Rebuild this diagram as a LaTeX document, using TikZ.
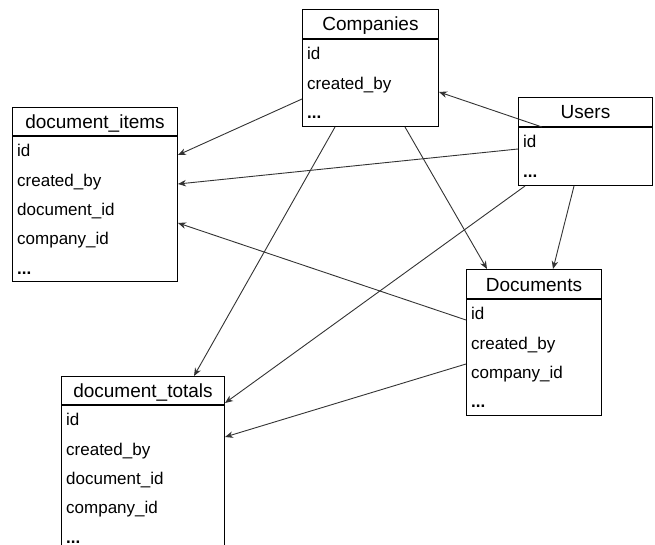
\documentclass[tikz,border=0pt]{standalone}
\usepackage{fontspec}
\setmainfont{Liberation Sans}
\usetikzlibrary{calc,arrows.meta}
\tikzset{
  hdr/.style={draw=black, line width=1pt, anchor=north west, inner sep=0pt, minimum height=29pt,
    text height=14pt, text depth=0pt, font=\fontsize{19}{22}\selectfont},
  body/.style={draw=black, line width=1pt, anchor=north west, inner sep=0pt},
  row/.style={anchor=north west, inner xsep=5pt, inner ysep=0pt, minimum height=29pt,
    text height=12pt, text depth=0pt, align=left, font=\fontsize{17}{20}\selectfont},
  link/.style={draw=black!80, line width=0.9pt, -{Stealth[length=8pt,width=6.5pt,inset=2.5pt]}}
}
\begin{document}
\begin{tikzpicture}[x=1pt,y=-1pt]
\useasboundingbox (0,0) rectangle (655,545);

% Companies
\node[hdr, minimum width=136pt] (comph) at (302,9) {Companies};
\node[body, minimum width=136pt, minimum height=87pt] (compb) at (comph.south west) {};
\node[row, text width=126pt] (comp1) at (compb.north west) {id};
\node[row, text width=126pt] (comp2) at (comp1.south west) {created\_by};
\node[row, text width=126pt] (comp3) at (comp2.south west) {\textbf{...}};

% Users
\node[hdr, minimum width=134pt] (uh) at (518,97) {Users};
\node[body, minimum width=134pt, minimum height=58pt] (ub) at (uh.south west) {};
\node[row, text width=124pt] (u1) at (ub.north west) {id};
\node[row, text width=124pt] (u2) at (u1.south west) {\textbf{...}};

% document_items
\node[hdr, minimum width=165pt, minimum height=28pt] (dih) at (12,107) {document\_items};
\node[body, minimum width=165pt, minimum height=145pt] (dib) at (dih.south west) {};
\node[row, text width=155pt] (di1) at (dib.north west) {id};
\node[row, text width=155pt] (di2) at (di1.south west) {created\_by};
\node[row, text width=155pt] (di3) at (di2.south west) {document\_id};
\node[row, text width=155pt] (di4) at (di3.south west) {company\_id};
\node[row, text width=155pt] (di5) at (di4.south west) {\textbf{...}};

% Documents
\node[hdr, minimum width=135pt] (doch) at (466,269) {Documents};
\node[body, minimum width=135pt, minimum height=116pt] (docb) at (doch.south west) {};
\node[row, text width=125pt] (doc1) at (docb.north west) {id};
\node[row, text width=125pt] (doc2) at (doc1.south west) {created\_by};
\node[row, text width=125pt] (doc3) at (doc2.south west) {company\_id};
\node[row, text width=125pt] (doc4) at (doc3.south west) {\textbf{...}};

% document_totals
\node[hdr, minimum width=163pt, minimum height=28pt] (dth) at (61,376) {document\_totals};
\node[body, minimum width=163pt, minimum height=145pt] (dtb) at (dth.south west) {};
\node[row, text width=153pt] (dt1) at (dtb.north west) {id};
\node[row, text width=153pt] (dt2) at (dt1.south west) {created\_by};
\node[row, text width=153pt] (dt3) at (dt2.south west) {document\_id};
\node[row, text width=153pt] (dt4) at (dt3.south west) {company\_id};
\node[row, text width=153pt] (dt5) at (dt4.south west) {\textbf{...}};

% connectors
\draw[link] ($(compb.north west)+(0,60)$) -- ($(dib.north east)+(0,19)$);
\draw[link] ($(ub.north west)+(0,22)$) -- ($(dib.north east)+(0,48)$);
\draw[link] ($(docb.north west)+(0,21)$) -- ($(dib.north east)+(0,87)$);
\draw[link] ($(uh.south west)+(24,0)$) -- ($(compb.north east)+(0,53)$);
\draw[link] ($(ub.south west)+(56,0)$) -- ($(doch.north west)+(87,0)$);
\draw[link] ($(compb.south west)+(103,0)$) -- ($(doch.north west)+(21,0)$);
\draw[link] ($(compb.south west)+(33,0)$) -- ($(dth.north west)+(133,0)$);
\draw[link] ($(ub.south west)+(7,0)$) -- ($(dth.south east)+(0,-2)$);
\draw[link] ($(docb.north west)+(0,65)$) -- ($(dtb.north east)+(0,32)$);
\end{tikzpicture}
\end{document}
